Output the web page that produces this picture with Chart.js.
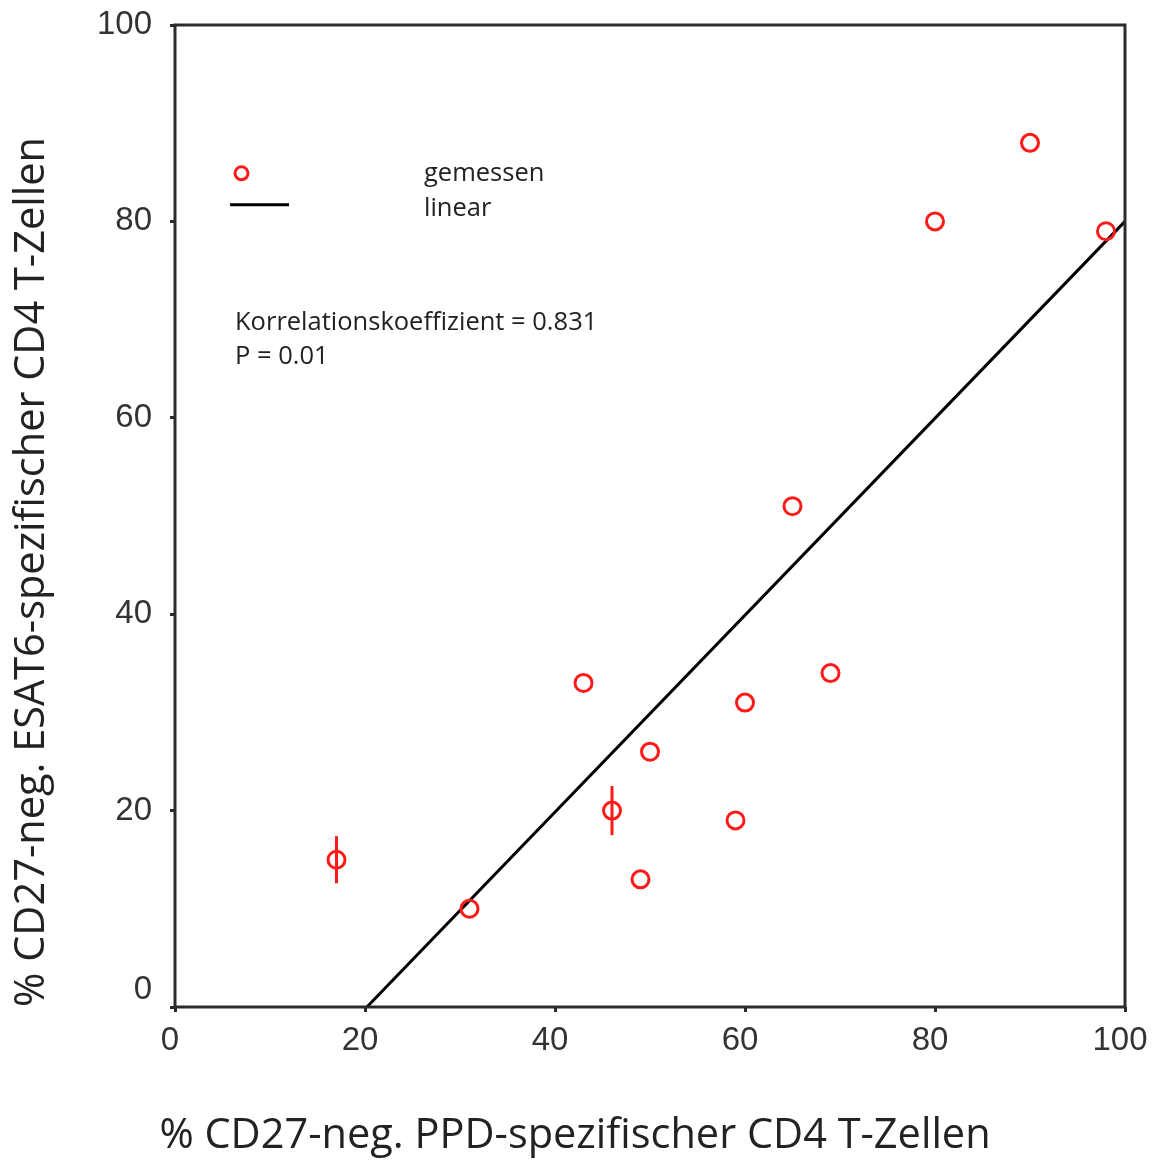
<!DOCTYPE html>
<html>
<head>
<meta charset="utf-8">
<script src="https://cdn.jsdelivr.net/npm/chart.js@4.4.1/dist/chart.umd.min.js"></script>
<style>
  html, body { margin: 0; padding: 0; background: #fff; }
  #wrap { width: 1156px; height: 1162px; position: relative; }
</style>
</head>
<body>
<div id="wrap"><canvas id="c" width="1156" height="1162"></canvas></div>
<script>
// ---- data ----
const ppdValues  = [17, 31, 43, 46, 49, 50, 59, 60, 65, 69, 80, 90, 98];
const esatValues = [15, 10, 33, 20, 13, 26, 19, 31, 51, 34, 80, 88, 79];
const esatErrors = [2.4, 0, 0, 2.5, 0, 0, 0, 0, 0, 0, 0, 0, 0];
const fitX = [20.2, 100];
const fitY = [0, 80];
const xTicks = [0, 20, 40, 60, 80, 100];
const yTicks = [0, 20, 40, 60, 80, 100];
const xTitle = '% CD27-neg. PPD-spezifischer CD4 T-Zellen';
const yTitle = '% CD27-neg. ESAT6-spezifischer CD4 T-Zellen';
const legendLabels = ['gemessen', 'linear'];
const statLines = ['Korrelationskoeffizient = 0.831', 'P = 0.01'];

const RED = '#ff1a1a';
const AXIS = '#2b2b2b';
const TXT = '#222';
const titleFont = '"Open Sans", "Liberation Sans", sans-serif';
const tickFont = '"Liberation Sans", Arial, sans-serif';

const points = ppdValues.map((x, i) => ({ x: x, y: esatValues[i], e: esatErrors[i] }));
const fitLine = fitX.map((x, i) => ({ x: x, y: fitY[i] }));

const decorPlugin = {
  id: 'decor',
  beforeDatasetsDraw(chart) {
    const { ctx, scales: { x, y } } = chart;
    ctx.save();
    ctx.strokeStyle = RED;
    ctx.lineWidth = 3;
    points.forEach(p => {
      if (!p.e) return;
      const px = x.getPixelForValue(p.x);
      ctx.beginPath();
      ctx.moveTo(px, y.getPixelForValue(p.y + p.e));
      ctx.lineTo(px, y.getPixelForValue(p.y - p.e));
      ctx.stroke();
    });
    ctx.restore();
  },
  afterDraw(chart) {
    const { ctx, chartArea: a, scales: { x, y } } = chart;
    ctx.save();
    // frame
    ctx.strokeStyle = AXIS;
    ctx.lineWidth = 3;
    ctx.strokeRect(a.left, a.top, a.right - a.left, a.bottom - a.top);

    // y "0" label (sits a little above the axis in the original)
    ctx.fillStyle = '#333';
    ctx.font = '33px ' + tickFont;
    ctx.textAlign = 'right';
    ctx.textBaseline = 'middle';
    ctx.fillText('0', a.left - 23, y.getPixelForValue(0) - 17);

    // legend
    const lx = x.getPixelForValue(7), ly1 = y.getPixelForValue(84.9), ly2 = y.getPixelForValue(81.7);
    ctx.strokeStyle = RED;
    ctx.lineWidth = 3;
    ctx.beginPath();
    ctx.arc(lx, ly1, 6.5, 0, Math.PI * 2);
    ctx.stroke();
    ctx.strokeStyle = '#000';
    ctx.lineWidth = 3;
    ctx.beginPath();
    ctx.moveTo(x.getPixelForValue(5.8), ly2);
    ctx.lineTo(x.getPixelForValue(12), ly2);
    ctx.stroke();

    ctx.fillStyle = TXT;
    ctx.textAlign = 'left';
    ctx.textBaseline = 'middle';
    ctx.font = '25.5px ' + titleFont;
    ctx.fillText(legendLabels[0], 424, ly1);
    ctx.fillText(legendLabels[1], 424, ly2 + 4);
    ctx.fillText(statLines[0], 235, y.getPixelForValue(69.65));
    ctx.fillText(statLines[1], 235, y.getPixelForValue(66.2));

    // axis titles
    ctx.font = '41.5px ' + titleFont;
    ctx.fillStyle = TXT;
    ctx.textAlign = 'center';
    ctx.fillText(xTitle, 575, 1136);
    ctx.translate(32, 572);
    ctx.rotate(-Math.PI / 2);
    ctx.fillText(yTitle, 0, 0);
    ctx.restore();
  }
};

function zeroPad(s) { s.paddingTop = 0; s.paddingBottom = 0; s.paddingLeft = 0; s.paddingRight = 0; }

new Chart(document.getElementById('c'), {
  type: 'scatter',
  data: {
    datasets: [
      {
        label: legendLabels[0],
        data: points,
        showLine: false,
        pointStyle: 'circle',
        pointRadius: 8.5,
        pointBorderWidth: 3,
        borderColor: RED,
        backgroundColor: 'rgba(0,0,0,0)',
        pointBackgroundColor: 'rgba(0,0,0,0)',
        clip: false
      },
      {
        label: legendLabels[1],
        data: fitLine,
        showLine: true,
        borderColor: '#000',
        borderWidth: 3,
        pointRadius: 0,
        fill: false,
        clip: false
      }
    ]
  },
  options: {
    responsive: false,
    animation: false,
    layout: { padding: { left: 0, top: 25, right: 31, bottom: 0 } },
    plugins: { legend: { display: false }, tooltip: { enabled: false } },
    scales: {
      x: {
        type: 'linear', min: 0, max: 100,
        afterFit(s) { s.height = 155; zeroPad(s); },
        afterBuildTicks(s) { s.ticks = xTicks.map(v => ({ value: v })); },
        grid: { drawOnChartArea: false, drawTicks: true, tickLength: 5, tickColor: AXIS, lineWidth: 3 },
        border: { display: false },
        ticks: { color: '#333', font: { family: tickFont, size: 33 }, padding: 9, labelOffset: -5, maxRotation: 0 }
      },
      y: {
        type: 'linear', min: 0, max: 100,
        afterFit(s) { s.width = 175; zeroPad(s); },
        afterBuildTicks(s) { s.ticks = yTicks.map(v => ({ value: v })); },
        grid: { drawOnChartArea: false, drawTicks: true, tickLength: 5, tickColor: AXIS, lineWidth: 3 },
        border: { display: false },
        ticks: {
          color: '#333', font: { family: tickFont, size: 33 }, padding: 18,
          callback: v => (v === 0 ? '' : String(v))
        }
      }
    }
  },
  plugins: [decorPlugin]
});
</script>
</body>
</html>
